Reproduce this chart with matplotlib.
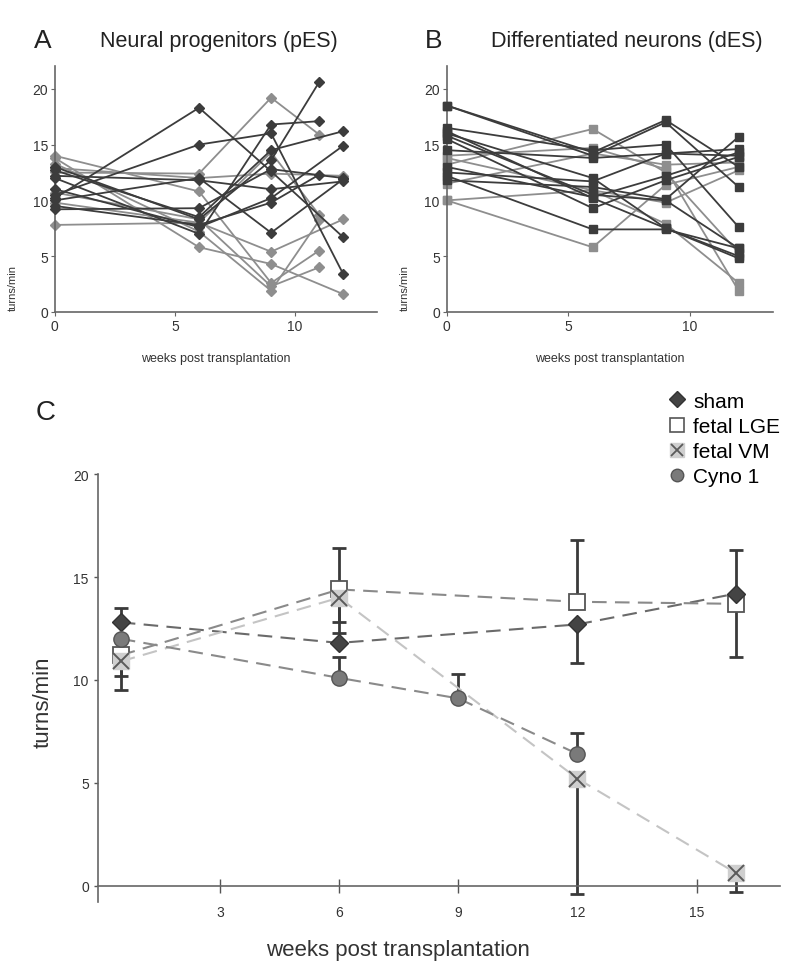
import matplotlib
matplotlib.use("Agg")
import matplotlib.pyplot as plt
from matplotlib.lines import Line2D
import numpy as np

plt.rcParams['font.family'] = ['Liberation Sans', 'DejaVu Sans']
NARROW = ['Liberation Sans Narrow', 'Liberation Sans', 'DejaVu Sans']

DARK = "#3c3c3c"
GREY = "#8e8e8e"

# ---- Panel A: neural progenitors (pES), one row per animal ----
pes_weeks = [0, 6, 9, 11, 12]
# (shade, values at 0, 6, 9, 11, 12 ; None = not measured)
pes_shade = ["d", "d", "d", "d", "g", "g", "d", "d", "d", "g",
             "g", "g", "d", "d", "g", "g", "d", "g"]
pes_vals = [
    [10.2, 18.3, 12.6, None, 6.7],
    [10.5, 15.0, 16.0, None, 3.4],
    [12.0, 7.0, 16.8, 17.1, None],
    [13.0, 8.3, 13.6, 20.6, None],
    [12.5, 12.4, 19.2, 15.9, None],
    [7.8, 8.0, 14.3, 8.7, None],
    [9.2, 9.3, 12.8, None, 12.0],
    [11.0, 7.6, 10.2, None, 14.9],
    [12.7, 8.5, 14.5, None, 16.2],
    [13.8, 5.8, 4.3, None, 1.6],
    [14.0, 10.8, 2.6, 5.5, None],
    [13.3, 7.2, 1.9, 8.2, None],
    [12.2, 11.8, 11.0, None, 11.7],
    [10.0, 12.0, 7.1, None, 11.9],
    [9.8, 8.0, 5.4, None, 8.3],
    [10.7, 8.3, 2.3, 4.0, None],
    [9.5, 7.8, 9.8, 12.3, None],
    [12.9, 12.0, 12.4, None, 12.2],
]

# ---- Panel B: differentiated neurons (dES) ----
des_weeks = [0, 6, 9, 12]
des_shade = ["d", "d", "g", "d", "d", "d", "d", "g", "d", "g",
             "d", "d", "d", "g", "g", "g", "d", "d"]
des_vals = [
    [18.5, 14.3, 17.2, 13.0],
    [18.5, 14.0, 17.0, 11.2],
    [13.2, 16.4, 12.5, 5.3],
    [16.5, 14.5, 15.0, 7.6],
    [16.2, 10.2, 7.5, 4.8],
    [15.8, 10.5, 10.0, 5.7],
    [15.5, 9.3, 11.8, 13.9],
    [14.0, 14.7, 12.8, 1.9],
    [14.5, 13.8, 14.2, 14.0],
    [13.8, 10.9, 9.8, 12.7],
    [12.5, 11.7, 14.2, 14.6],
    [12.2, 7.4, 7.4, 5.7],
    [11.8, 11.2, 10.1, 15.7],
    [11.5, 14.2, 13.2, 13.4],
    [10.0, 10.9, 7.9, 2.6],
    [10.0, 5.8, 11.4, 13.0],
    [13.0, 10.3, 12.2, 14.3],
    [16.0, 12.0, 7.5, 5.0],
]

# ---- Panel C: group means ----
groups = ["sham", "fetal LGE", "fetal VM", "Cyno 1"]
sham_x = [0.5, 6, 12, 16]
sham_y = [12.8, 11.8, 12.7, 14.2]
sham_err = [[0, 0, 1.9, 0], [0.7, 0, 0, 2.1]]
lge_x = [0.5, 6, 12, 16]
lge_y = [11.2, 14.4, 13.8, 13.7]
lge_err = [[1.0, 2.1, 0, 2.6], [0, 2.0, 3.0, 0]]
vm_x = [0.5, 6, 12, 16]
vm_y = [10.9, 14.0, 5.2, 0.6]
vm_err = [[1.4, 1.2, 5.6, 0.9], [0, 0, 0, 0]]
cyno_x = [0.5, 6, 9, 12]
cyno_y = [12.0, 10.1, 9.1, 6.4]
cyno_err = [[0, 0, 0, 0], [0, 1.0, 1.2, 1.0]]

fig = plt.figure(figsize=(7.95, 9.78), dpi=100)


def spaghetti(ax, weeks, shades, vals, marker, ms):
    for shade, row in zip(shades, vals):
        xs = [w for w, v in zip(weeks, row) if v is not None]
        ys = [v for v in row if v is not None]
        c = DARK if shade == "d" else GREY
        ax.plot(xs, ys, color=c, lw=1.3, marker=marker, ms=ms,
                mfc=c, mec=c, clip_on=False, zorder=3 if shade == "d" else 2)
    ax.set_xlim(0, 13.4)
    ax.set_ylim(0, 22)
    ax.set_xticks([0, 5, 10])
    ax.set_yticks([0, 5, 10, 15, 20])
    for s in ["top", "right"]:
        ax.spines[s].set_visible(False)
    for s in ["left", "bottom"]:
        ax.spines[s].set_color("#666666")
        ax.spines[s].set_linewidth(1.2)
    ax.tick_params(length=3, width=0.8, color="#666666", labelsize=10,
                   labelcolor="#333333", pad=2)
    ax.set_ylabel("turns/min", fontsize=8, color="#333333", labelpad=2)
    ax.yaxis.set_label_coords(-0.115, 0.1)
    ax.set_xlabel("weeks post transplantation", fontsize=9,
                  family=NARROW, color="#333333", labelpad=14)


axA = fig.add_axes([0.069, 0.680, 0.405, 0.251])
spaghetti(axA, pes_weeks, pes_shade, pes_vals, "D", 5.5)
fig.text(0.043, 0.958, "A", fontsize=19, va="center", color="#222222")
fig.text(0.126, 0.958, "Neural progenitors (pES)", fontsize=15.5,
         va="center", color="#222222")

axB = fig.add_axes([0.562, 0.680, 0.410, 0.251])
spaghetti(axB, des_weeks, des_shade, des_vals, "s", 5.5)
fig.text(0.535, 0.958, "B", fontsize=19, va="center", color="#222222")
fig.text(0.618, 0.958, "Differentiated neurons (dES)", fontsize=15.5,
         va="center", color="#222222")

# ---- Panel C ----
axC = fig.add_axes([0.123, 0.0767, 0.858, 0.4373])
ebkw = dict(ecolor="#3a3a3a", elinewidth=2, capsize=5, capthick=2,
            fmt="none", zorder=2, clip_on=False)
axC.errorbar(sham_x, sham_y, yerr=sham_err, **ebkw)
axC.errorbar(lge_x, lge_y, yerr=lge_err, **ebkw)
axC.errorbar(vm_x, vm_y, yerr=vm_err, **ebkw)
axC.errorbar(cyno_x, cyno_y, yerr=cyno_err, **ebkw)

axC.plot(sham_x, sham_y, ls=(0, (7, 4)), color="#6a6a6a", lw=1.5, zorder=3)
axC.plot(lge_x, lge_y, ls=(0, (7, 4)), color="#8a8a8a", lw=1.5, zorder=3)
axC.plot(vm_x, vm_y, ls=(0, (7, 4)), color="#c4c4c4", lw=1.5, zorder=3)
axC.plot(cyno_x, cyno_y, ls=(0, (7, 4)), color="#8a8a8a", lw=1.5, zorder=3)

axC.plot(sham_x, sham_y, ls="none", marker="D", ms=9, mfc="#444444",
         mec="#333333", zorder=5)
axC.plot(lge_x, lge_y, ls="none", marker="s", ms=12, mfc="white",
         mec="#555555", mew=1.3, zorder=4)
axC.plot(vm_x, vm_y, ls="none", marker="s", ms=12, mfc="#cfcfcf",
         mec="#cfcfcf", zorder=5)
axC.plot(vm_x, vm_y, ls="none", marker="x", ms=11, mec="#5a5a5a",
         mew=1.4, zorder=6)
axC.plot(cyno_x, cyno_y, ls="none", marker="o", ms=11, mfc="#7a7a7a",
         mec="#555555", zorder=5, clip_on=False)

axC.set_xlim(-0.08, 17.1)
axC.set_ylim(-0.8, 20)
axC.set_xticks([3, 6, 9, 12, 15])
axC.set_yticks([0, 5, 10, 15, 20])
axC.spines["bottom"].set_position(("data", 0))
for s in ["top", "right"]:
    axC.spines[s].set_visible(False)
for s in ["left", "bottom"]:
    axC.spines[s].set_color("#666666")
    axC.spines[s].set_linewidth(1.2)
axC.tick_params(axis="x", direction="inout", length=10, width=1,
                color="#555555", pad=9)
axC.tick_params(axis="y", length=3, width=1, color="#555555")
for lab in axC.get_xticklabels() + axC.get_yticklabels():
    lab.set_family(NARROW)
    lab.set_fontsize(10)
    lab.set_color("#333333")
axC.set_ylabel("turns/min", fontsize=16, color="#333333")
axC.yaxis.set_label_coords(-0.065, 0.47)
fig.text(0.5, 0.028, "weeks post transplantation", fontsize=16,
         family=NARROW, ha="center", va="center", color="#333333")
fig.text(0.045, 0.578, "C", fontsize=20, va="center", color="#222222",
         family=NARROW)

h_sham = Line2D([], [], ls="none", marker="D", ms=8, mfc="#444444",
                mec="#333333")
h_lge = Line2D([], [], ls="none", marker="s", ms=10, mfc="white",
               mec="#555555", mew=1.2)
h_vm_bg = Line2D([], [], ls="none", marker="s", ms=10, mfc="#cfcfcf",
                 mec="#cfcfcf")
h_vm_x = Line2D([], [], ls="none", marker="x", ms=9, mec="#5a5a5a", mew=1.3)
h_cyno = Line2D([], [], ls="none", marker="o", ms=9, mfc="#7a7a7a",
                mec="#555555")
fig.legend([h_sham, h_lge, (h_vm_bg, h_vm_x), h_cyno], groups,
           loc="upper left", bbox_to_anchor=(0.83, 0.607), frameon=False,
           handlelength=0.8, handletextpad=0.4,
           labelspacing=0.3, borderaxespad=0,
           prop={"family": NARROW, "size": 15})

fig.savefig("out.png", dpi=100)
